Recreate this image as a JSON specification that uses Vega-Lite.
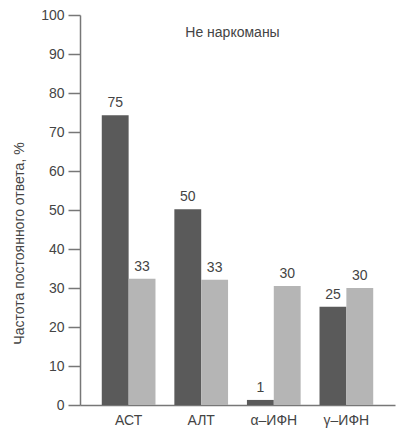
{
  "$schema": "https://vega.github.io/schema/vega-lite/v6.json",
  "autosize": {"type": "none"},
  "padding": {"left": 80, "top": 15, "right": 5, "bottom": 33},
  "width": 315,
  "height": 390,
  "background": "white",
  "config": {
    "font": "Liberation Sans",
    "view": {"stroke": null}
  },
  "title": {
    "text": "Не наркоманы",
    "anchor": "middle",
    "fontSize": 14,
    "fontWeight": "normal",
    "color": "#444444",
    "orient": "top",
    "offset": -32,
    "dx": -5
  },
  "data": {
    "values": [
      {"test": "АСТ", "group": "a", "value": 74.3, "label": "75"},
      {"test": "АСТ", "group": "b", "value": 32.4, "label": "33"},
      {"test": "АЛТ", "group": "a", "value": 50.2, "label": "50"},
      {"test": "АЛТ", "group": "b", "value": 32.1, "label": "33"},
      {"test": "α–ИФН", "group": "a", "value": 1.3, "label": "1"},
      {"test": "α–ИФН", "group": "b", "value": 30.5, "label": "30"},
      {"test": "γ–ИФН", "group": "a", "value": 25.2, "label": "25"},
      {"test": "γ–ИФН", "group": "b", "value": 30.0, "label": "30"}
    ]
  },
  "encoding": {
    "x": {
      "field": "test",
      "type": "nominal",
      "sort": null,
      "scale": {"paddingInner": 0.26, "paddingOuter": 0.3},
      "axis": {
        "title": null,
        "labelAngle": 0,
        "labelFontSize": 14,
        "labelColor": "#444444",
        "labelPadding": 8,
        "ticks": false,
        "domainColor": "#777777",
        "domainWidth": 1.5
      }
    },
    "xOffset": {"field": "group", "type": "nominal", "scale": {"paddingInner": 0, "paddingOuter": 0}},
    "y": {
      "field": "value",
      "type": "quantitative",
      "scale": {"domain": [0, 100], "nice": false},
      "axis": {
        "title": "Частота постоянного ответа, %",
        "titleFontSize": 14,
        "titleFontWeight": "normal",
        "titleColor": "#444444",
        "titleX": -61,
        "titleY": 228,
        "titleAngle": -90,
        "titleBaseline": "middle",
        "values": [0, 10, 20, 30, 40, 50, 60, 70, 80, 90, 100],
        "labelFontSize": 14,
        "labelColor": "#444444",
        "labelPadding": 4,
        "tickSize": 12,
        "tickColor": "#777777",
        "tickWidth": 1.5,
        "domainColor": "#777777",
        "domainWidth": 1.5,
        "grid": false
      }
    }
  },
  "layer": [
    {
      "mark": {"type": "bar"},
      "encoding": {
        "color": {
          "field": "group",
          "type": "nominal",
          "scale": {"domain": ["a", "b"], "range": ["#5a5a5a", "#b5b5b5"]},
          "legend": null
        }
      }
    },
    {
      "mark": {"type": "text", "dy": -12, "fontSize": 14, "color": "#444444"},
      "encoding": {
        "text": {"field": "label"}
      }
    }
  ]
}
